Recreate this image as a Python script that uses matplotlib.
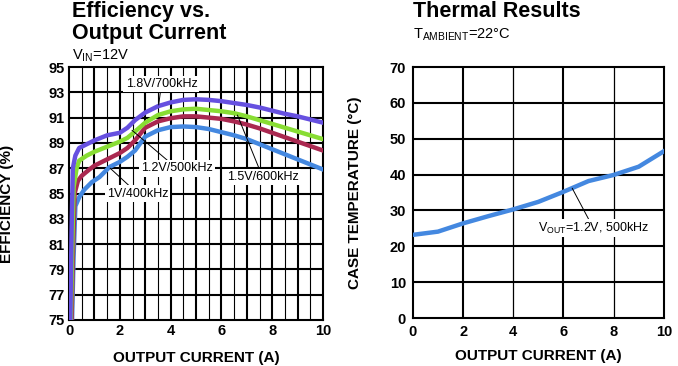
import numpy as np
import matplotlib
matplotlib.use("Agg")
import matplotlib.pyplot as plt

plt.rcParams['font.family'] = ['Liberation Sans', 'DejaVu Sans']

# efficiency curves
x_18 = [0.05, 0.1, 0.15, 0.25, 0.4, 0.7, 1.0, 1.5, 2.0, 2.3, 2.6, 3.0, 3.5, 4.0, 4.5,
        5.0, 5.5, 6.0, 6.5, 7.0, 7.5, 8.0, 8.5, 9.0, 9.5, 10.0]
eff_18 = [75, 82, 87, 88, 88.6, 88.9, 89.2, 89.6, 89.8, 90.2, 90.8, 91.4, 91.9, 92.2, 92.4,
          92.45, 92.4, 92.3, 92.15, 92.0, 91.8, 91.55, 91.3, 91.1, 90.85, 90.6]

x_15 = [0.07, 0.12, 0.18, 0.3, 0.4, 0.7, 1.0, 1.5, 2.0, 2.3, 2.6, 3.0, 3.5, 4.0, 4.5,
        5.0, 5.5, 6.0, 6.5, 7.0, 7.5, 8.0, 8.5, 9.0, 9.5, 10.0]
eff_15 = [75, 80, 85.5, 87, 87.6, 88.0, 88.3, 88.7, 89.1, 89.4, 89.9, 90.6, 91.2, 91.5, 91.65,
          91.7, 91.6, 91.5, 91.35, 91.1, 90.8, 90.5, 90.2, 89.9, 89.6, 89.3]

x_12 = [0.1, 0.15, 0.22, 0.35, 0.5, 0.8, 1.0, 1.5, 2.0, 2.3, 2.6, 3.0, 3.5, 4.0, 4.5,
        5.0, 5.5, 6.0, 6.5, 7.0, 7.5, 8.0, 8.5, 9.0, 9.5, 10.0]
eff_12 = [75, 80, 85, 86, 86.4, 86.9, 87.2, 87.7, 88.2, 88.6, 89.2, 90.2, 90.7, 90.95, 91.1,
          91.1, 91.0, 90.9, 90.7, 90.45, 90.15, 89.8, 89.45, 89.1, 88.75, 88.4]

x_10 = [0.12, 0.18, 0.25, 0.4, 0.6, 0.9, 1.2, 1.6, 2.0, 2.3, 2.6, 3.0, 3.5, 4.0, 4.5,
        5.0, 5.5, 6.0, 6.5, 7.0, 7.5, 8.0, 8.5, 9.0, 9.5, 10.0]
eff_10 = [75, 80, 84, 84.7, 85.3, 85.9, 86.3, 87.1, 87.5, 87.9, 88.4, 89.5, 90.0, 90.25, 90.3,
          90.25, 90.1, 89.85, 89.6, 89.3, 88.9, 88.5, 88.1, 87.7, 87.3, 86.9]

# thermal curve
x_th = [0, 1, 2, 3, 4, 5, 6, 7, 8, 9, 10]
temp = [23.2, 24.1, 26.4, 28.4, 30.3, 32.4, 35.2, 38.2, 39.9, 42.2, 46.5]

eff_ticks = [75, 77, 79, 81, 83, 85, 87, 89, 91, 93, 95]

fig = plt.figure(figsize=(6.78, 3.66), dpi=100)
ax1 = fig.add_axes([0.1018, 0.1257, 0.3746, 0.6912])
ax2 = fig.add_axes([0.609, 0.131, 0.370, 0.6859])

tick_font = dict(fontsize=10.5, fontweight='bold')
lab_font = dict(fontsize=11, fontweight='bold')

# ---- left: efficiency
for xv in np.arange(0.5, 10, 0.5):
    ax1.axvline(xv, color='k', lw=1.5 if xv % 1 == 0 else 0.8, zorder=1)
for yv in eff_ticks[1:-1]:
    ax1.axhline(yv, color='k', lw=1.5, zorder=1)

ax1.plot(x_10, eff_10, color='#4488e0', lw=3.2, zorder=3)
ax1.plot(x_12, eff_12, color='#aa2850', lw=3.2, zorder=3)
ax1.plot(x_15, eff_15, color='#88dd33', lw=3.2, zorder=3)
ax1.plot(x_18, eff_18, color='#6650e0', lw=3.2, zorder=3)

ax1.set_xlim(0, 10)
ax1.set_ylim(75, 95)
ax1.set_xticks([0, 2, 4, 6, 8, 10])
ax1.set_yticks(eff_ticks)
ax1.set_xticklabels(['0', '2', '4', '6', '8', '10'], **tick_font)
ax1.set_yticklabels([str(t) for t in eff_ticks], **tick_font)
ax1.tick_params(length=0, pad=3)
ax1.set_xlabel('OUTPUT CURRENT (A)', labelpad=9, **lab_font)
ax1.set_ylabel('EFFICIENCY (%)', **lab_font)
ax1.yaxis.set_label_coords(-0.215, 0.46)
for s in ax1.spines.values():
    s.set_linewidth(1.5)

ann = dict(fontsize=9, ha='center', va='center', zorder=5,
           bbox=dict(facecolor='white', edgecolor='none', pad=1.5),
           arrowprops=dict(arrowstyle='-', color='k', lw=0.7, shrinkA=0, shrinkB=0))
ax1.annotate('1.8V/700kHz', xy=(3.53, 92.0), xytext=(3.64, 93.66), **ann)
ax1.annotate('1.2V/500kHz', xy=(2.48, 90.0), xytext=(4.25, 86.98), **ann)
ax1.annotate('1.5V/600kHz', xy=(6.63, 91.2), xytext=(7.62, 86.3), **ann)
ax1.annotate('1V/400kHz', xy=(1.62, 87.0), xytext=(2.7, 85.0), **ann)

fig.text(0.106, 0.953, 'Efficiency vs.', fontsize=15.5, fontweight='bold', va='baseline')
fig.text(0.106, 0.893, 'Output Current', fontsize=15.5, fontweight='bold', va='baseline')
fig.text(0.106, 0.838, r'V$_{\mathregular{IN}}$=12V', fontsize=10.5, va='baseline')

# ---- right: thermal
for xv in [2, 4, 6, 8]:
    ax2.axvline(xv, color='k', lw=1.5 if xv in (2, 6) else 0.9, zorder=1)
for yv in range(10, 70, 10):
    ax2.axhline(yv, color='k', lw=1.5, zorder=1)
ax2.plot(x_th, temp, color='#4488e0', lw=3.2, zorder=3)
ax2.set_xlim(0, 10)
ax2.set_ylim(0, 70)
ax2.set_xticks([0, 2, 4, 6, 8, 10])
ax2.set_yticks(range(0, 80, 10))
ax2.set_xticklabels(['0', '2', '4', '6', '8', '10'], **tick_font)
ax2.set_yticklabels([str(t) for t in range(0, 80, 10)], **tick_font)
ax2.tick_params(length=0, pad=5)
ax2.set_xlabel('OUTPUT CURRENT (A)', labelpad=7, **lab_font)
ax2.set_ylabel('CASE TEMPERATURE (°C)', **lab_font)
ax2.yaxis.set_label_coords(-0.203, 0.5)
for s in ax2.spines.values():
    s.set_linewidth(1.5)

ax2.annotate(r'V$_{\mathregular{OUT}}$=1.2V, 500kHz', xy=(6.35, 36.2), xytext=(7.2, 25.0),
             fontsize=9, ha='center', va='center', zorder=5,
             bbox=dict(facecolor='white', edgecolor='none', pad=1.0),
             arrowprops=dict(arrowstyle='-', color='k', lw=0.7, shrinkA=0, shrinkB=0))

fig.text(0.609, 0.953, 'Thermal Results', fontsize=15.5, fontweight='bold', va='baseline')
fig.text(0.609, 0.896, r'T$_{\mathregular{AMBIENT}}$=22°C', fontsize=10.5, va='baseline')

fig.savefig('out.png', dpi=100)
